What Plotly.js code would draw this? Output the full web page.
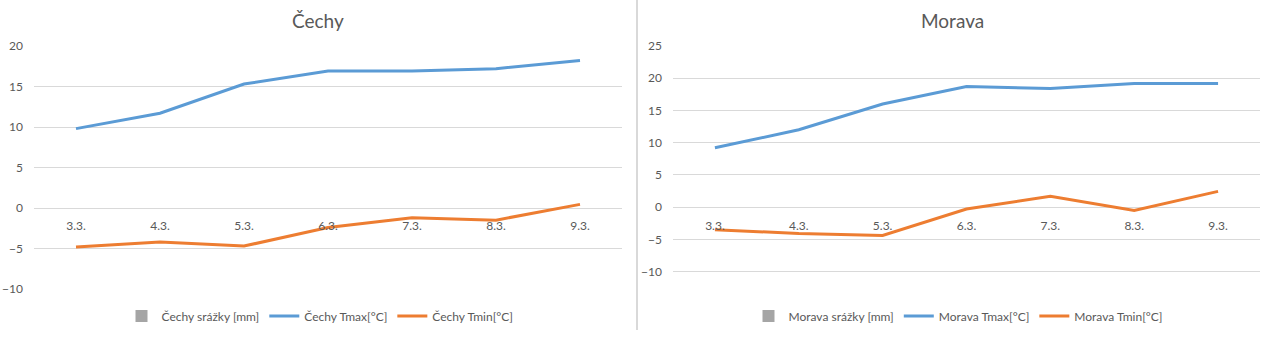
<!DOCTYPE html>
<html><head><meta charset="utf-8">
<script src="https://cdn.plot.ly/plotly-3.0.1.min.js"></script>
<style>html,body{margin:0;padding:0;background:#fff;}#chart{width:1273px;height:350px;}</style>
</head><body><div id="chart"></div>
<script>
const categories = ["3.3.", "4.3.", "5.3.", "6.3.", "7.3.", "8.3.", "9.3."];
const cechySrazky = [0, 0, 0, 0, 0, 0, 0];
const cechyTmax = [9.8, 11.7, 15.3, 16.9, 16.9, 17.2, 18.2];
const cechyTmin = [-4.8, -4.2, -4.7, -2.4, -1.2, -1.5, 0.45];
const moravaSrazky = [0, 0, 0, 0, 0, 0, 0];
const moravaTmax = [9.2, 12.0, 16.0, 18.7, 18.4, 19.2, 19.2];
const moravaTmin = [-3.5, -4.1, -4.4, -0.3, 1.7, -0.5, 2.45];
const yTicksLeft = [-10, -5, 0, 5, 10, 15, 20];
const yTicksRight = [-10, -5, 0, 5, 10, 15, 20, 25];

const FONT = "Lato, 'Open Sans', sans-serif";
const TXT = "#595959";
const GRID = "#d9d9d9";
const BLUE = "#5b9bd5", ORANGE = "#ed7d31", GRAY = "#a5a5a5";

const traces = [
  {type:"bar", x:categories, y:cechySrazky, name:"Čechy srážky [mm]", marker:{color:GRAY, line:{width:0}}, xaxis:"x", yaxis:"y", legend:"legend"},
  {type:"scatter", mode:"lines", x:categories, y:cechyTmax, name:"Čechy Tmax[°C]", line:{color:BLUE, width:3}, xaxis:"x", yaxis:"y", legend:"legend"},
  {type:"scatter", mode:"lines", x:categories, y:cechyTmin, name:"Čechy Tmin[°C]", line:{color:ORANGE, width:3}, xaxis:"x", yaxis:"y", legend:"legend"},
  {type:"bar", x:categories, y:moravaSrazky, name:"Morava srážky [mm]", marker:{color:GRAY, line:{width:0}}, xaxis:"x2", yaxis:"y2", legend:"legend2"},
  {type:"scatter", mode:"lines", x:categories, y:moravaTmax, name:"Morava Tmax[°C]", line:{color:BLUE, width:3}, xaxis:"x2", yaxis:"y2", legend:"legend2"},
  {type:"scatter", mode:"lines", x:categories, y:moravaTmin, name:"Morava Tmin[°C]", line:{color:ORANGE, width:3}, xaxis:"x2", yaxis:"y2", legend:"legend2"}
];

const yDom = [1-289/350, 1-46/350];
const xAxisCommon = {type:"category", range:[-0.5, 6.5], showgrid:false, zeroline:false, showline:false, ticks:"", tickfont:{family:FONT, size:12, color:TXT}, anchor:"free", ticklabelstandoff:8, fixedrange:true};
const yAxisCommon = {showgrid:true, gridcolor:GRID, gridwidth:1, zeroline:false, showline:false, ticks:"", tickfont:{family:FONT, size:12, color:TXT}, ticklabelstandoff:10, fixedrange:true};

const layout = {
  width:1273, height:350,
  margin:{l:0, r:0, t:0, b:0},
  paper_bgcolor:"#fff", plot_bgcolor:"rgba(0,0,0,0)",
  font:{family:FONT, color:TXT},
  showlegend:true,
  barmode:"group",
  xaxis: Object.assign({}, xAxisCommon, {domain:[34/1273, 622/1273], position:1-209/350}),
  yaxis: Object.assign({}, yAxisCommon, {domain:yDom, range:[-10, 20], tickvals:yTicksLeft, anchor:"x"}),
  xaxis2: Object.assign({}, xAxisCommon, {domain:[673/1273, 1260/1273], position:1-208.5/350}),
  yaxis2: Object.assign({}, yAxisCommon, {domain:yDom, range:[-12.7, 25], tickvals:yTicksRight, anchor:"x2"}),
  legend:{orientation:"h", x:320/1273, xanchor:"center", y:1-316/350, yanchor:"middle", font:{family:FONT, size:12, color:TXT}, itemwidth:30, tracegroupgap:0, bgcolor:"rgba(0,0,0,0)"},
  legend2:{orientation:"h", x:958/1273, xanchor:"center", y:1-316/350, yanchor:"middle", font:{family:FONT, size:12, color:TXT}, itemwidth:30, tracegroupgap:0, bgcolor:"rgba(0,0,0,0)"},
  annotations:[
    {text:"Čechy", xref:"paper", yref:"paper", x:318/1273, y:1-20/350, xanchor:"center", yanchor:"middle", showarrow:false, font:{family:FONT, size:19, color:TXT}},
    {text:"Morava", xref:"paper", yref:"paper", x:952/1273, y:1-20/350, xanchor:"center", yanchor:"middle", showarrow:false, font:{family:FONT, size:19, color:TXT}}
  ],
  shapes:[
    {type:"line", xref:"paper", yref:"paper", x0:637/1273, x1:637/1273, y0:1-330/350, y1:1, line:{color:"#d9d9d9", width:2}}
  ]
};

Plotly.newPlot("chart", traces, layout, {displayModeBar:false, staticPlot:true});
</script>
</body></html>
